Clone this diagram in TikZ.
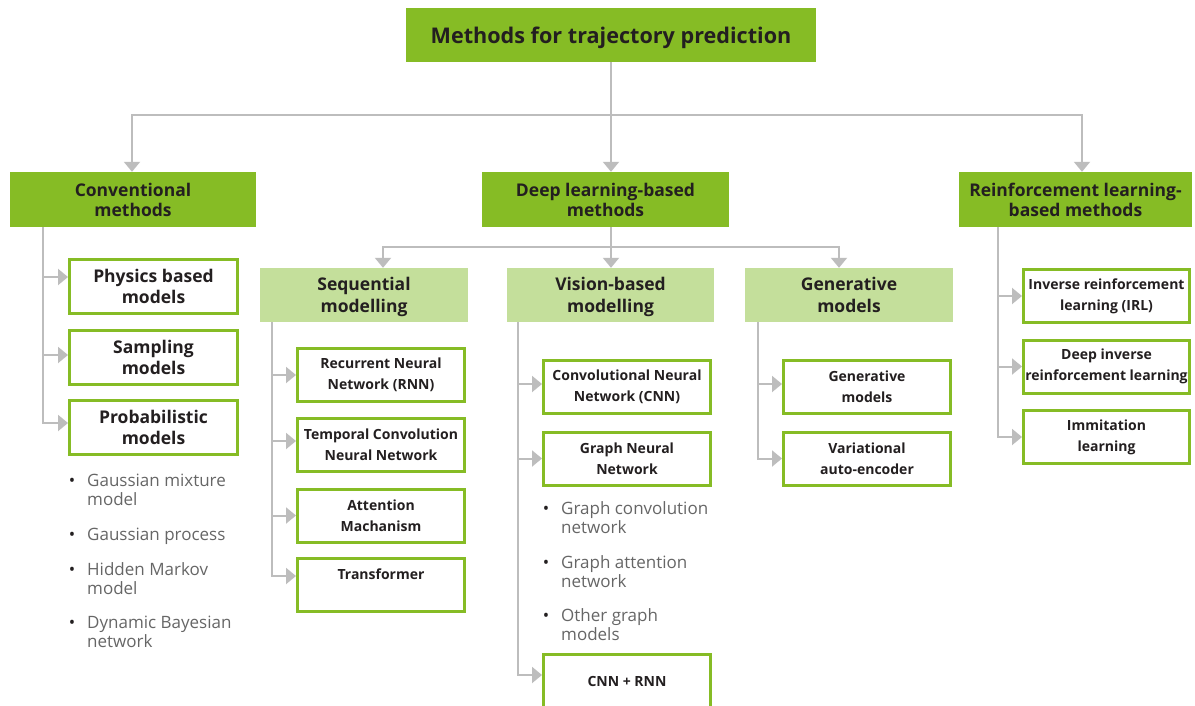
\documentclass[tikz,border=0pt]{standalone}
\usepackage{fontspec}
\setmainfont{Open Sans}
\usetikzlibrary{arrows.meta}
\definecolor{dgreen}{HTML}{86BC25}
\definecolor{lgreen}{HTML}{C4DF9B}
\definecolor{conn}{HTML}{BDBDBD}
\definecolor{txt}{HTML}{231F20}
\definecolor{btxt}{HTML}{666666}
\begin{document}
\begin{tikzpicture}[x=1pt,y=-1pt,
  lvlone/.style={fill=dgreen, text=txt, inner sep=0pt, align=center, minimum height=55pt,
    font=\bfseries\fontsize{17.5}{20}\selectfont},
  lvltwo/.style={fill=lgreen, text=txt, inner sep=0pt, align=center, minimum height=54pt,
    minimum width=208pt, text depth=-2pt, font=\bfseries\fontsize{17.5}{22}\selectfont},
  cbox/.style={draw=dgreen, line width=3pt, fill=white, text=txt, inner sep=0pt, align=center,
    minimum width=167pt, minimum height=53pt, font=\bfseries\fontsize{14}{21}\selectfont},
  bigbox/.style={cbox, minimum width=168pt, minimum height=54pt, font=\bfseries\fontsize{17.5}{21}\selectfont},
  conline/.style={draw=conn, line width=2pt},
  arr/.style={conline, -{Triangle[length=10pt, width=16pt]}},
  bul/.style={anchor=north west, inner sep=0pt, align=left, text=btxt,
    font=\fontsize{17}{19}\selectfont},
]
\useasboundingbox (0,0) rectangle (1195,706);
\fill[white] (0,0) rectangle (1195,706);

% level 0
\node[lvlone, minimum width=410pt, minimum height=54pt, text depth=0pt, font=\bfseries\fontsize{21.6}{24}\selectfont] (top) at (611,35) {Methods for trajectory prediction};

% level 1
\node[lvlone, minimum width=246pt] (conv) at (133,199.5) {Conventional\\methods};
\node[lvlone, minimum width=247pt] (deep) at (605.5,199.5) {Deep learning-based\\methods};
\node[lvlone, minimum width=233pt] (rl) at (1075.5,199.5) {Reinforcement learning-\\based methods};

% level 2
\node[lvltwo] (seq) at (364,295) {Sequential\\modelling};
\node[lvltwo, minimum width=207pt] (vis) at (610.5,295) {Vision-based\\modelling};
\node[lvltwo] (gen) at (849,295) {Generative\\models};

% conventional children
\node[bigbox] (phys) at (153.5,286.5) {Physics based\\models};
\node[bigbox] (samp) at (153.5,357) {Sampling\\models};
\node[bigbox] (prob) at (153.5,427) {Probabilistic\\models};

% sequential children
\node[cbox] (rnn) at (381,375) {Recurrent Neural\\Network (RNN)};
\node[cbox] (tcn) at (381,445) {Temporal Convolution\\Neural Network};
\node[cbox] (att) at (381,515.5) {Attention\\Machanism};
\node[cbox] (trans) at (381,585) {Transformer\\\phantom{X}};

% vision children
\node[cbox] (cnn) at (627,387) {Convolutional Neural\\Network (CNN)};
\node[cbox] (gnn) at (627,458.5) {Graph Neural\\Network};
\node[cbox] (cnnrnn) at (627,681) {CNN + RNN};

% generative children
\node[cbox] (genm) at (867,387) {Generative\\models};
\node[cbox] (vae) at (867,458.5) {Variational\\auto-encoder};

% RL children
\node[cbox, minimum width=166pt] (irl) at (1106.5,296) {Inverse reinforcement\\learning (IRL)};
\node[cbox, minimum width=166pt] (dirl) at (1106.5,366.5) {Deep inverse\\reinforcement learning};
\node[cbox, minimum width=166pt] (imm) at (1106.5,437) {Immitation\\learning};

% bullets
\node[bul] (b1) at (87,474) {\llap{{\color{txt}•}\hspace{12pt}}Gaussian mixture\\model};
\node[bul] (b2) at (87,528) {\llap{{\color{txt}•}\hspace{12pt}}Gaussian process};
\node[bul] (b3) at (87,562) {\llap{{\color{txt}•}\hspace{12pt}}Hidden Markov\\model};
\node[bul] (b4) at (87,616) {\llap{{\color{txt}•}\hspace{12pt}}Dynamic Bayesian\\network};
\node[bul] (v1) at (561,501) {\llap{{\color{txt}•}\hspace{12pt}}Graph convolution\\network};
\node[bul] (v2) at (561,555) {\llap{{\color{txt}•}\hspace{12pt}}Graph attention\\network};
\node[bul] (v3) at (561,608) {\llap{{\color{txt}•}\hspace{12pt}}Other graph\\models};

% connectors level 0 -> 1
\coordinate (hb) at (611,115);
\draw[conline] (top.south) -- (hb);
\draw[arr] (hb) -| ([xshift=-1pt]conv.north);
\draw[arr] (hb) -- (deep.north -| hb);
\draw[arr] (hb) -| ([xshift=6.5pt]rl.north);

% deep -> level 2
\coordinate (db) at (611,247);
\draw[conline] (deep.south -| db) -- (db);
\draw[arr] (db) -| ([xshift=19pt]seq.north);
\draw[arr] (db) -- (vis.north -| db);
\draw[arr] (db) -| ([xshift=-10pt]gen.north);

% trunks
\coordinate (ct) at (43,227);
\draw[arr] (ct) |- ([yshift=9.5pt]phys.west);
\draw[arr] (ct) |- ([yshift=2pt]samp.west);
\draw[arr] (ct) |- ([yshift=4pt]prob.west);

\coordinate (st) at (272,322);
\draw[arr] (st) |- (rnn.west);
\draw[arr] (st) |- ([yshift=4pt]tcn.west);
\draw[arr] (st) |- (att.west);
\draw[arr] (st) |- ([yshift=9pt]trans.west);

\coordinate (vt) at (518,322);
\draw[arr] (vt) |- ([yshift=3pt]cnn.west);
\draw[arr] (vt) |- (gnn.west);
\draw[arr] (vt) |- ([yshift=6pt]cnnrnn.west);

\coordinate (gt) at (758,322);
\draw[arr] (gt) |- ([yshift=3pt]genm.west);
\draw[arr] (gt) |- (vae.west);

\coordinate (rt) at (998,227);
\draw[arr] (rt) |- (irl.west);
\draw[arr] (rt) |- (dirl.west);
\draw[arr] (rt) |- (imm.west);
\end{tikzpicture}
\end{document}
